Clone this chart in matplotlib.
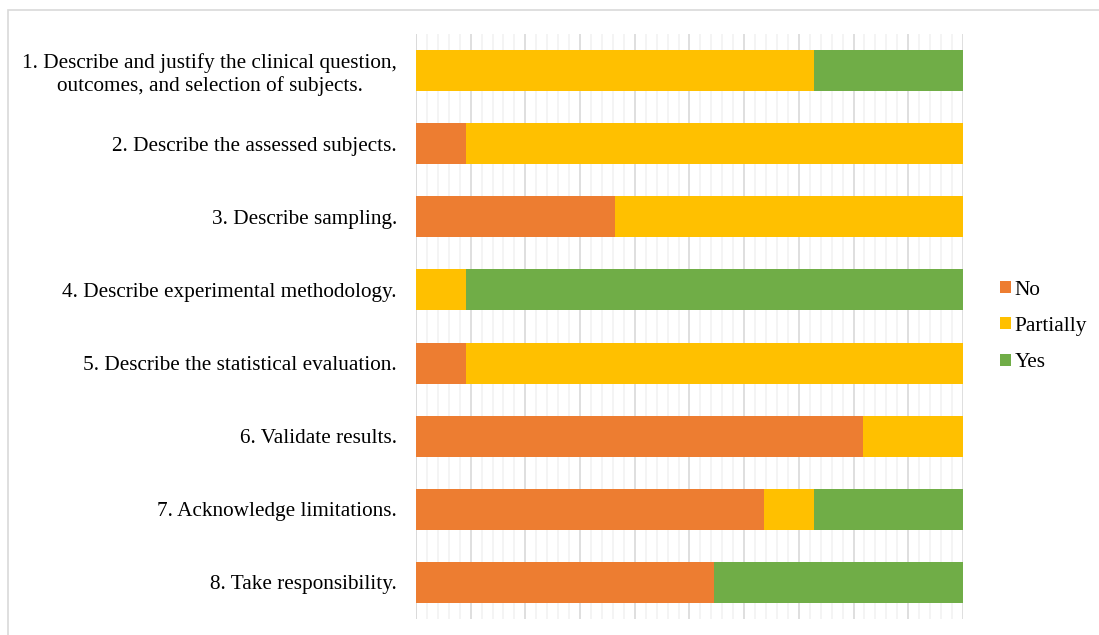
import numpy as np
import matplotlib.pyplot as plt
from matplotlib.patches import Rectangle

plt.rcParams['font.family'] = ['Liberation Serif', 'DejaVu Serif']

items = ['1. Describe and justify the clinical question,\noutcomes, and selection of subjects.',
         '2. Describe the assessed subjects.',
         '3. Describe sampling.',
         '4. Describe experimental methodology.',
         '5. Describe the statistical evaluation.',
         '6. Validate results.',
         '7. Acknowledge limitations.',
         '8. Take responsibility.']
no = np.array([0, 1, 4, 0, 1, 9, 7, 6])
partially = np.array([8, 10, 7, 1, 10, 2, 1, 0])
yes = np.array([3, 0, 0, 10, 0, 0, 3, 5])

total = no + partially + yes
no_p = no / total
part_p = partially / total
yes_p = yes / total

fig = plt.figure(figsize=(10.99, 6.35), dpi=100)
fig.patches.append(Rectangle((0.007, -0.05), 1.1, 1.034, transform=fig.transFigure,
                             fill=False, edgecolor='#D9D9D9', linewidth=1.2))
ax = fig.add_axes([0.3785, 0.0252, 0.4977, 0.9213])

y = np.arange(len(items))
h = 0.56
ax.barh(y, no_p, height=h, color='#ED7D31', label='No', zorder=3)
ax.barh(y, part_p, left=no_p, height=h, color='#FFC000', label='Partially', zorder=3)
ax.barh(y, yes_p, left=no_p + part_p, height=h, color='#70AD47', label='Yes', zorder=3)

ax.set_xlim(0, 1)
ax.set_ylim(len(items) - 0.5, -0.5)
ax.set_xticks(np.arange(0, 1.01, 0.1))
ax.set_xticks(np.arange(0, 1.01, 0.02), minor=True)
ax.grid(axis='x', which='major', color='#D9D9D9', linewidth=1.2, zorder=0)
ax.grid(axis='x', which='minor', color='#F2F2F2', linewidth=1.2, zorder=0)
ax.tick_params(axis='x', which='both', length=0, labelbottom=False)
ax.tick_params(axis='y', length=0, labelsize=15.3, pad=13.7)
ax.set_yticks(y)
ax.set_yticklabels(items)
for lab in ax.get_yticklabels():
    lab.set_multialignment('center')
for s in ax.spines.values():
    s.set_visible(False)
ax.axvline(0, color='#D9D9D9', linewidth=1.2, zorder=1)

ax.legend(loc='center left', bbox_to_anchor=(1.0335, 0.5), frameon=False,
          fontsize=15.3, handlelength=0.5, handleheight=0.5, handletextpad=0.15,
          labelspacing=0.81)

fig.savefig('out.png', dpi=100)
